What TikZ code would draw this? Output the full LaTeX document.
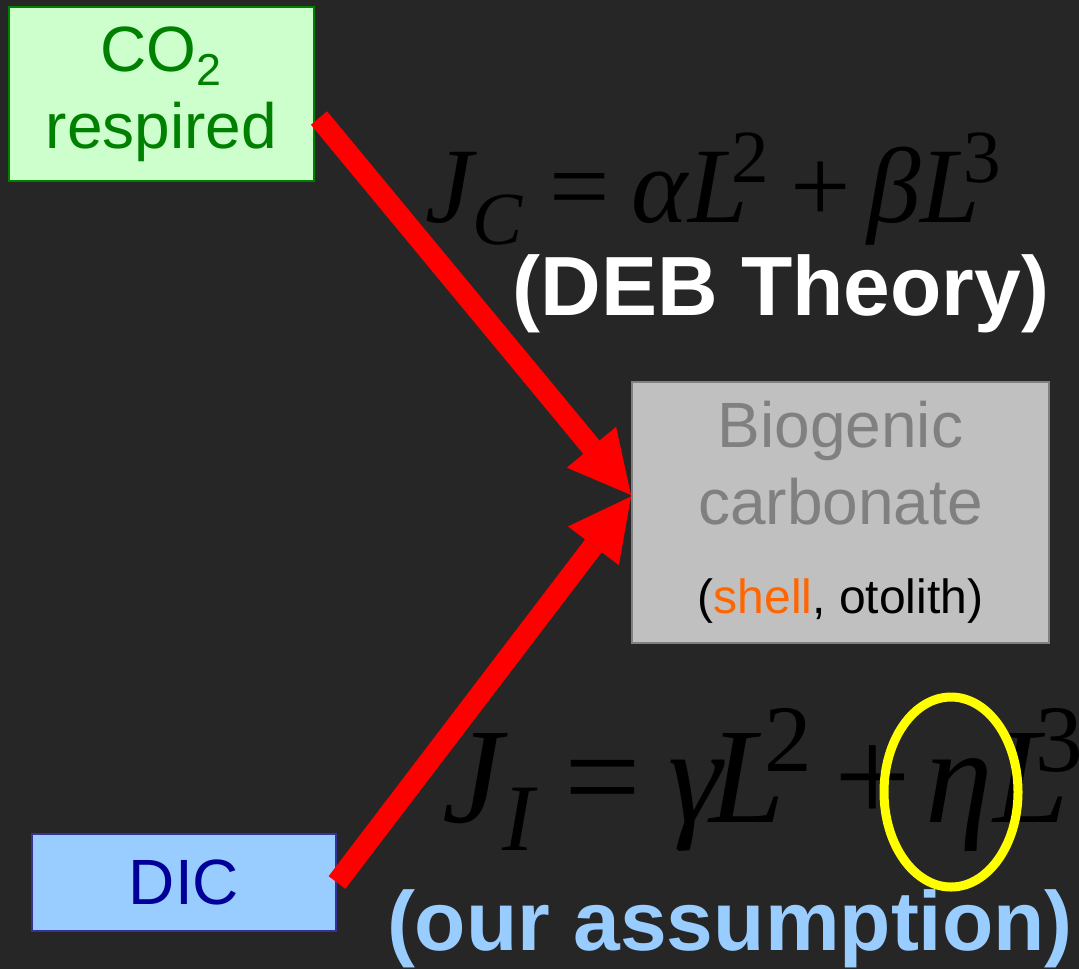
\documentclass[tikz,border=0pt]{standalone}
\usepackage{fontspec}
\usepackage{graphicx}
\setmainfont{Liberation Sans}
\newfontfamily\eqfont{Liberation Serif}
\usetikzlibrary{arrows.meta}
\definecolor{SlideBack}{HTML}{262626}
\definecolor{RespGreen}{HTML}{008000}
\definecolor{RespFill}{HTML}{CCFFCC}
\definecolor{DicFill}{HTML}{99CCFF}
\definecolor{DicLine}{HTML}{333399}
\definecolor{DicText}{HTML}{000099}
\definecolor{ShellFill}{HTML}{C0C0C0}
\definecolor{ShellGray}{HTML}{808080}
\definecolor{ShellOrange}{HTML}{FF6600}
\definecolor{FluxRed}{HTML}{FF0000}
\definecolor{MarkYellow}{HTML}{FFFF00}
\definecolor{AssumeBlue}{HTML}{99CCFF}

\newcommand\lowidx[1]{\raisebox{-0.21em}{\scalebox{0.7}{#1}}}
\newcommand\upidx[2][-0.15em]{\kern#1\raisebox{0.37em}{\scalebox{0.7}{\upshape #2}}}

\tikzset{
  box/.style={draw, line width=1pt, inner sep=0pt, align=center,
    font=\fontsize{32}{38.5}\selectfont},
  flow/.style={draw=FluxRed, line width=10.5pt,
    -{Triangle[length=31pt,width=32pt,line width=0pt]}},
  eqn/.style={inner sep=0pt, anchor=base west, text=black},
  note/.style={inner sep=0pt, anchor=base, font=\bfseries\fontsize{42}{50}\selectfont},
}

\begin{document}
\begin{tikzpicture}[x=0.5pt, y=-0.5pt]
  \fill[SlideBack] (0,0) rectangle (1079,969);
  \useasboundingbox (0,0) rectangle (1079,969);

  % carbon sources and the carbonate they end up in
  \node[box, fill=RespFill, draw=RespGreen, text=RespGreen,
    minimum width=152.5pt, minimum height=87pt] (co2) at (161.5,94)
    {CO\textsubscript{2}\\respired};
  \node[box, fill=DicFill, draw=DicLine, text=DicText,
    minimum width=152pt, minimum height=48.5pt] (dic) at (184,882.5) {DIC};
  \node[box, fill=ShellFill, draw=ShellGray, text=ShellGray,
    minimum width=208.5pt, minimum height=130.5pt] (bio) at (840.5,512.5)
    {Biogenic\\carbonate\\[6pt]{\color{black}\fontsize{24}{29}\selectfont
     (\textcolor{ShellOrange}{shell}, otolith)}};

  % fluxes
  \draw[flow] ([xshift=2pt,yshift=-12pt]co2.east) -- ([yshift=8.75pt]bio.west);
  \draw[flow] (dic.east) -- ([yshift=8pt]bio.west);

  % flux laws
  \node[eqn, font=\eqfont\itshape\fontsize{53.6}{60}\selectfont] (jc) at (425,222)
    {J\lowidx{C}\hspace{0.25em}{\upshape=}\hspace{0.2em}αL\upidx{2}\hspace{0.2em}{\upshape+}\hspace{0.15em}βL\upidx{3}};
  \node[note, text=white] (deb) at (781,315) {(DEB Theory)};

  \node[eqn, font=\eqfont\itshape\fontsize{68}{76}\selectfont] (ji) at (442,822)
    {J\lowidx{I}\hspace{0.22em}{\upshape=}\hspace{0.2em}γ\kern-0.09em L\upidx{2}\hspace{0.16em}{\upshape+}\hspace{0.11em}ηL\upidx[-0.25em]{3}};
  \draw[MarkYellow, line width=4.5pt] (951,792) ellipse [x radius=33.5pt, y radius=47.5pt];
  \node[note, text=AssumeBlue] (ours) at (730,950) {(our assumption)};
\end{tikzpicture}
\end{document}
